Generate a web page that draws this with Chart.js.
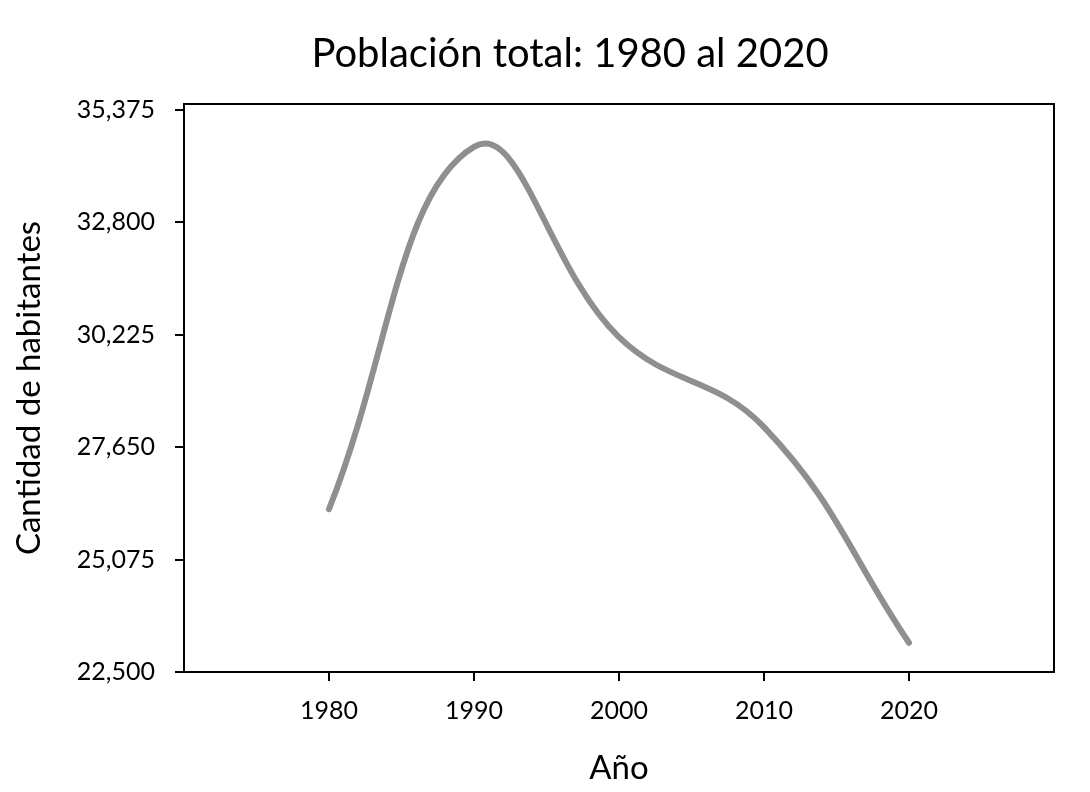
<!DOCTYPE html>
<html>
<head>
<meta charset="utf-8">
<script src="https://cdn.jsdelivr.net/npm/chart.js@4/dist/chart.umd.min.js"></script>
<style>
  html, body { margin: 0; padding: 0; background: #fff; }
  #wrap { width: 1090px; height: 792px; }
</style>
</head>
<body>
<div id="wrap"><canvas id="myChart" width="1090" height="792"></canvas></div>
<script>
// data
var years = [1980, 1990, 2000, 2010, 2020];
var habitantes = [26230, 34530, 30170, 28110, 23170];
var yearTicks = [1980, 1990, 2000, 2010, 2020];
var popTicks = [22500, 25075, 27650, 30225, 32800, 35375];

var chartTitle = 'Población total: 1980 al 2020';
var xTitle = 'Año';
var yTitle = 'Cantidad de habitantes';

var fontName = 'Lato, "Open Sans", sans-serif';

// draws the title and the box round the plot
var framePlugin = {
    id: 'frame',
    afterDraw: function(chart) {
        var ctx = chart.ctx;
        var a = chart.chartArea;
        ctx.save();
        ctx.strokeStyle = '#000';
        ctx.lineWidth = 2;
        ctx.strokeRect(a.left, a.top, a.right - a.left, a.bottom - a.top);
        ctx.fillStyle = '#000';
        ctx.font = '40px ' + fontName;
        ctx.textAlign = 'center';
        ctx.textBaseline = 'alphabetic';
        ctx.fillText(chartTitle, 570, 67);
        ctx.restore();
    }
};

function createChart() {
    var ctx = document.getElementById('myChart').getContext('2d');
    var points = [];
    for (var i = 0; i < years.length; i++) {
        points.push({ x: years[i], y: habitantes[i] });
    }
    new Chart(ctx, {
        type: 'line',
        data: {
            datasets: [{
                label: 'Población',
                data: points,
                borderColor: '#8f8f8f',
                borderWidth: 6,
                borderCapStyle: 'round',
                pointRadius: 0,
                tension: 0.42,
                fill: false
            }]
        },
        options: {
            responsive: false,
            animation: false,
            layout: { padding: { top: 104, right: 36, left: 0, bottom: 0 } },
            plugins: {
                legend: { display: false },
                title: { display: false },
                tooltip: { enabled: false }
            },
            scales: {
                x: {
                    type: 'linear',
                    min: 1970,
                    max: 2030,
                    afterBuildTicks: function(scale) {
                        scale.ticks = yearTicks.map(function(v) { return { value: v }; });
                    },
                    afterFit: function(scale) { scale.height = 120; },
                    ticks: {
                        color: '#000',
                        padding: 15,
                        maxRotation: 0,
                        font: { family: fontName, size: 25 },
                        callback: function(v) { return String(v); }
                    },
                    grid: { drawOnChartArea: false, drawTicks: true, tickLength: 9, color: '#000', lineWidth: 2 },
                    border: { color: '#000', width: 2 },
                    title: {
                        display: true,
                        text: xTitle,
                        color: '#000',
                        font: { family: fontName, size: 33 },
                        padding: { top: 0, bottom: 4 }
                    }
                },
                y: {
                    min: 22500,
                    max: 35512,
                    afterBuildTicks: function(scale) {
                        scale.ticks = popTicks.map(function(v) { return { value: v }; });
                    },
                    afterFit: function(scale) { scale.width = 184; },
                    ticks: {
                        color: '#000',
                        padding: 20,
                        font: { family: fontName, size: 25 },
                        callback: function(v) { return v.toLocaleString('en-US'); }
                    },
                    grid: { drawOnChartArea: false, drawTicks: true, tickLength: 9, color: '#000', lineWidth: 2 },
                    border: { color: '#000', width: 2 },
                    title: {
                        display: true,
                        text: yTitle,
                        color: '#000',
                        font: { family: fontName, size: 33 },
                        padding: { top: 10, bottom: 0 }
                    }
                }
            }
        },
        plugins: [framePlugin]
    });
}

createChart();
</script>
</body>
</html>
